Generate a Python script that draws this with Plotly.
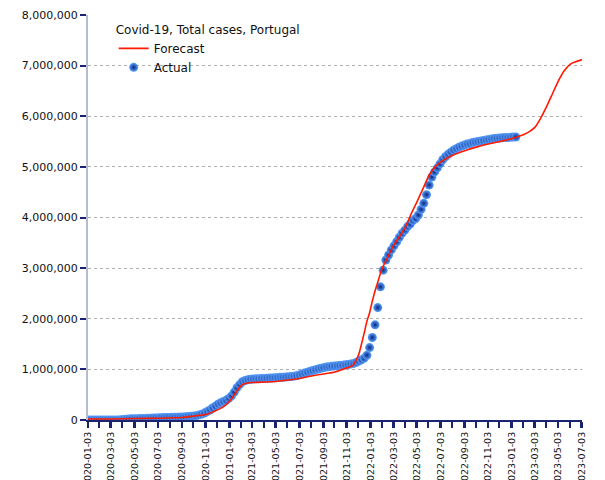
import pandas as pd
import plotly.graph_objects as go

# Actual weekly cumulative cases (thousands), Fridays from 2020-01-03
actual_start = "2020-01-03"
actual_k = [
    # 2020
    0, 0, 0, 0, 0,
    0, 0, 0, 0,
    0, 0.1, 1, 4,
    10, 15, 19, 23,
    25, 27, 29, 30, 32,
    34, 36, 38, 41,
    43, 45, 48, 49, 51,
    52, 54, 55, 57,
    59, 63, 68, 72,
    77, 86, 100, 116, 137,
    167, 198, 236, 274,
    313, 340, 366, 390,
    # 2021
    427, 476, 550, 636, 699,
    756, 781, 796, 805,
    810, 813, 816, 819,
    822, 825, 828, 832, 836,
    839, 842, 845, 849,
    853, 858, 866, 876,
    891, 908, 927, 945, 962,
    977, 993, 1008, 1022,
    1034, 1045, 1053, 1060,
    1067, 1072, 1078, 1083, 1090,
    1097, 1105, 1117, 1136,
    1162, 1191, 1221, 1280, 1430,
    # 2022
    1630, 1880, 2220, 2630,
    2960, 3160, 3260, 3360,
    3440, 3520, 3610, 3690,
    3750, 3820, 3870, 3940, 3980,
    4050, 4160, 4280, 4450,
    4640, 4800, 4900, 4980,
    5060, 5140, 5200, 5250, 5290,
    5330, 5360, 5390, 5410,
    5430, 5450, 5460, 5480, 5490,
    5500, 5510, 5520, 5530,
    5540, 5550, 5560, 5565,
    5570, 5575, 5580, 5580, 5585,
    # 2023
    5590, 5590,
]
actual_dates = pd.date_range(actual_start, periods=len(actual_k), freq="7D")
actual_vals = [v * 1000 for v in actual_k]

# Forecast curve (millions)
forecast_dates = [
    "2020-01-03", "2020-03-03", "2020-05-03", "2020-07-03", "2020-09-03",
    "2020-10-03", "2020-11-03", "2020-12-03", "2020-12-18", "2021-01-03",
    "2021-01-18", "2021-02-03", "2021-02-18", "2021-03-03", "2021-04-03",
    "2021-05-03", "2021-06-03", "2021-07-03", "2021-08-03", "2021-09-03",
    "2021-10-03", "2021-11-03", "2021-11-18", "2021-11-25", "2021-12-03",
    "2021-12-10", "2021-12-17", "2021-12-24", "2021-12-31", "2022-01-07",
    "2022-01-14", "2022-01-21", "2022-01-28", "2022-02-03", "2022-02-18",
    "2022-03-03", "2022-03-18", "2022-04-03", "2022-04-18", "2022-05-03",
    "2022-05-18", "2022-06-03", "2022-06-18", "2022-07-03", "2022-08-03",
    "2022-09-03", "2022-10-03", "2022-11-03", "2022-12-03", "2023-01-03",
    "2023-01-18", "2023-02-03", "2023-02-18", "2023-03-03", "2023-03-18",
    "2023-04-03", "2023-04-18", "2023-05-03", "2023-05-18", "2023-06-03",
    "2023-06-18", "2023-07-03",
]
forecast_m = [
    0.02, 0.02, 0.03, 0.035, 0.05,
    0.08, 0.11, 0.20, 0.26, 0.37,
    0.53, 0.69, 0.73, 0.74, 0.75,
    0.76, 0.79, 0.82, 0.87, 0.91,
    0.95, 1.03, 1.08, 1.17, 1.30,
    1.50, 1.72, 1.95, 2.12, 2.35,
    2.55, 2.72, 2.90, 3.02, 3.25,
    3.45, 3.62, 3.82, 4.08, 4.32,
    4.57, 4.84, 5.00, 5.10, 5.23,
    5.32, 5.39, 5.45, 5.50, 5.56,
    5.60, 5.64, 5.70, 5.78, 5.96,
    6.20, 6.45, 6.70, 6.90, 7.03,
    7.08, 7.12,
]
forecast_vals = [v * 1e6 for v in forecast_m]

y_ticks = [0, 1e6, 2e6, 3e6, 4e6, 5e6, 6e6, 7e6, 8e6]

NAVY = "#1a2470"
FONT = "DejaVu Sans"

fig = go.Figure()
fig.add_trace(go.Scatter(
    x=actual_dates, y=actual_vals, mode="markers", name="Actual",
    legendrank=2,
    marker=dict(size=9, color="#5aa2ff", line=dict(width=0),
                gradient=dict(type="radial", color="#0a2480")),
))
fig.add_trace(go.Scatter(
    x=forecast_dates, y=forecast_vals, mode="lines", name="Forecast",
    legendrank=1,
    line=dict(color="#ff1a00", width=1.6, shape="spline", smoothing=0.6),
))

fig.update_layout(
    template="none",
    width=605, height=480,
    margin=dict(l=80, r=31, t=7, b=68),
    paper_bgcolor="white", plot_bgcolor="white",
    font=dict(family=FONT, size=11, color="#111"),
    showlegend=True,
    legend=dict(
        title=dict(text="Covid-19, Total cases, Portugal", font=dict(size=12, family=FONT)),
        x=0.052, y=0.992, xanchor="left", yanchor="top",
        bgcolor="rgba(0,0,0,0)", font=dict(size=12, family=FONT),
        itemwidth=30, tracegroupgap=0,
    ),
    xaxis=dict(
        type="date", range=["2020-01-03", "2023-07-03"],
        tick0="2020-01-03", dtick="M2", tickformat="%Y-%m-%d",
        tickangle=-90, ticks="outside", ticklen=6, tickcolor=NAVY, tickwidth=1.5,
        minor=dict(dtick="M1", ticks="outside", ticklen=6, tickcolor=NAVY, tickwidth=1.5, showgrid=False),
        showline=True, linecolor=NAVY, linewidth=2,
        showgrid=False, zeroline=False, automargin=False,
        tickfont=dict(family=FONT, size=9.5, color="#111"),
    ),
    yaxis=dict(
        range=[0, 8e6], tickvals=y_ticks, tickformat=",d",
        ticks="outside", ticklen=6, tickcolor=NAVY, tickwidth=1.5,
        showline=True, linecolor="#b4bcd4", linewidth=2,
        showgrid=True, gridcolor="#b0b0b0", griddash="dot", gridwidth=1,
        zeroline=False, automargin=False,
        tickfont=dict(family=FONT, size=11, color="#111"),
    ),
)

fig.write_html("out.html")
